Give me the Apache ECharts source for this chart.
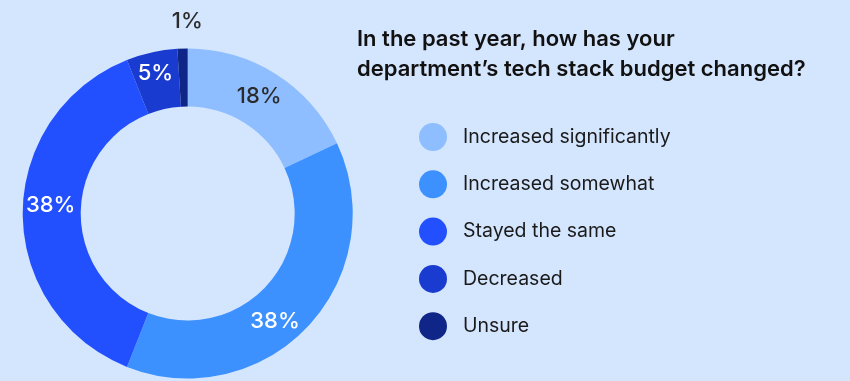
<!DOCTYPE html>
<html>
<head>
<meta charset="utf-8">
<style>
  html, body { margin: 0; padding: 0; background: #D4E5FE; }
  #chart { width: 850px; height: 381px; }
</style>
<script src="https://cdn.jsdelivr.net/npm/echarts@6/dist/echarts.min.js"></script>
</head>
<body>
<div id="chart"></div>
<script>
// Survey responses: change in department tech stack budget
const categories = [
  'Increased significantly',
  'Increased somewhat',
  'Stayed the same',
  'Decreased',
  'Unsure'
];
const shares = [18, 38, 38, 5, 1];

const sliceColors = ['#8EBEFF', '#3D91FF', '#2250FF', '#1A3BCF', '#0F2587'];
const labelColors = ['#2B2B2B', '#FFFFFF', '#FFFFFF', '#FFFFFF', '#2B2B2B'];
// small per-label nudges from the ring's mid-radius position
const labelNudge = [
  { dx: -3, dy: 0 },
  { dx: -14, dy: 13 },
  { dx: 2, dy: -8 },
  { dx: -2, dy: -4 },
  { dx: 4, dy: -53 }
];

const FONT = 'Inter, "Noto Sans", sans-serif';

const chart = echarts.init(document.getElementById('chart'), null, { renderer: 'canvas' });

chart.setOption({
  backgroundColor: '#D4E5FE',
  animation: false,
  title: {
    text: 'In the past year, how has your\ndepartment\u2019s tech stack budget changed?',
    left: 352,
    top: 19,
    textStyle: {
      fontFamily: FONT,
      fontSize: 22,
      fontWeight: 600,
      color: '#111111',
      lineHeight: 30
    }
  },
  legend: {
    orient: 'vertical',
    left: 414,
    top: 118,
    icon: 'circle',
    itemWidth: 28,
    itemHeight: 28,
    itemGap: 19.3,
    data: categories,
    textStyle: {
      fontFamily: FONT,
      fontSize: 19.5,
      color: '#1A1A1A',
      padding: [0, 0, 0, 11]
    }
  },
  series: [{
    type: 'pie',
    center: [187.7, 213.5],
    radius: [107, 165],
    startAngle: 90,
    clockwise: true,
    avoidLabelOverlap: false,
    emphasis: { disabled: true },
    label: {
      show: true,
      position: 'inside',
      formatter: '{c}%',
      fontFamily: FONT,
      fontSize: 22,
      fontWeight: 500
    },
    labelLine: { show: false },
    labelLayout: function (p) {
      return labelNudge[p.dataIndex];
    },
    data: categories.map(function (name, i) {
      return {
        name: name,
        value: shares[i],
        itemStyle: { color: sliceColors[i] },
        label: { color: labelColors[i] }
      };
    })
  }]
});
</script>
</body>
</html>
